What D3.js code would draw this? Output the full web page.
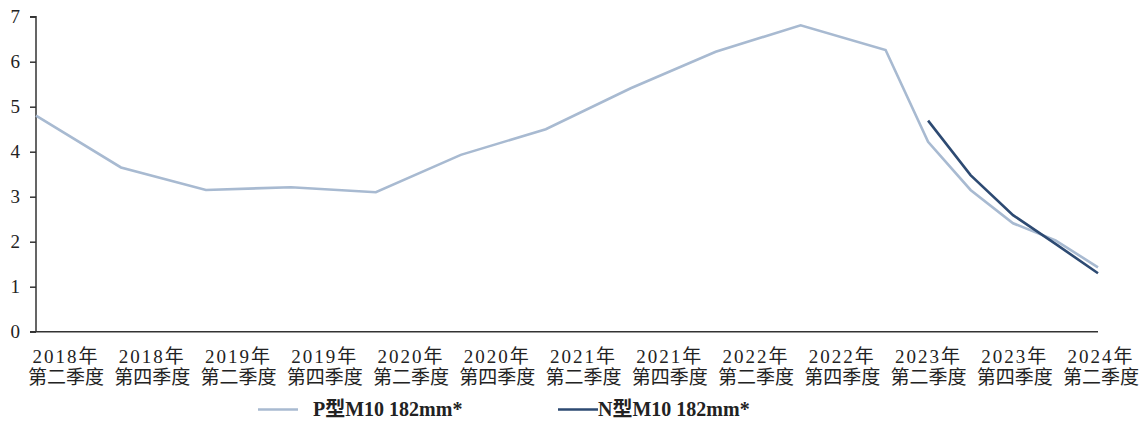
<!DOCTYPE html>
<html>
<head>
<meta charset="utf-8">
<script src="https://cdn.jsdelivr.net/npm/d3@7"></script>
<style>
  body { margin: 0; background: #fff; }
  text { font-family: "Liberation Serif", "Noto Sans CJK SC", serif; fill: #222; }
</style>
</head>
<body>
<script>
// periods with data (quarters); half-yearly until 2023Q2, then quarterly
var periods = ["2018Q2","2018Q4","2019Q2","2019Q4","2020Q2","2020Q4","2021Q2","2021Q4",
               "2022Q2","2022Q4","2023Q2","2023Q3","2023Q4","2024Q1","2024Q2","2024Q3"];
var pType = [4.80, 3.65, 3.15, 3.21, 3.10, 3.93, 4.50, 5.41, 6.22, 6.81, 6.26, 4.22, 3.15, 2.41, 2.03, 1.43];
var nType = [null, null, null, null, null, null, null, null, null, null, null, 4.69, 3.48, 2.59, 1.95, 1.30];
var yearLabels = ["2018年","2018年","2019年","2019年","2020年","2020年","2021年","2021年","2022年","2022年","2023年","2023年","2024年"];
var quarterLabels = ["第二季度","第四季度","第二季度","第四季度","第二季度","第四季度","第二季度","第四季度","第二季度","第四季度","第二季度","第四季度","第二季度"];
var yTicks = [0, 1, 2, 3, 4, 5, 6, 7];
var seriesNames = ["P型M10 182mm*", "N型M10 182mm*"];
var colors = ["#a8bad1", "#2d4a72"];

var w = 1148, h = 423;
var svg = d3.select("body").append("svg")
    .attr("width", w)
    .attr("height", h);

// quarter index from "YYYYQn"
function qIndex(p) { return (+p.slice(0, 4) - 2018) * 4 + (+p.slice(5) - 2); }

var x = d3.scaleLinear().domain([0, 25]).range([36, 1098]);
var y = d3.scaleLinear().domain([0, 7]).range([331.7, 16.7]);
var xLab = d3.scalePoint().domain(d3.range(yearLabels.length)).range([66, 1101]);

// y axis
var yAxis = svg.append("g")
    .attr("transform", "translate(36,0)")
    .call(d3.axisLeft(y).tickValues(yTicks).tickSize(6).tickPadding(10).tickFormat(d3.format("d")));
yAxis.select(".domain").attr("stroke", "#333").attr("stroke-width", 1.5).attr("d", "M-6,16.7H0V331.7");
yAxis.selectAll(".tick line").attr("stroke", "#333").attr("stroke-width", 1.5);
yAxis.selectAll(".tick text").style("font-size", "19px").attr("fill", "#222");

// x axis line
svg.append("line")
    .attr("x1", 30).attr("x2", x(25))
    .attr("y1", y(0)).attr("y2", y(0))
    .attr("stroke", "#333").attr("stroke-width", 1.5);

// x labels
var labs = svg.selectAll(".xlab")
    .data(yearLabels)
    .enter()
    .append("g")
    .attr("class", "xlab")
    .attr("transform", (d, i) => "translate(" + xLab(i) + ",0)");
labs.append("text")
    .attr("y", 362.5)
    .attr("text-anchor", "middle")
    .style("font-size", "19px")
    .style("letter-spacing", "2px")
    .text(d => d);
labs.append("text")
    .attr("y", 384)
    .attr("text-anchor", "middle")
    .style("font-size", "19px")
    .text((d, i) => quarterLabels[i]);

// lines
var line = d3.line()
    .defined(d => d.v != null)
    .x(d => x(qIndex(d.p)))
    .y(d => y(d.v));

[pType, nType].forEach(function(vals, k) {
  var pts = periods.map((p, i) => ({p: p, v: vals[i]}));
  svg.append("path")
      .datum(pts)
      .attr("fill", "none")
      .attr("stroke", colors[k])
      .attr("stroke-width", 2.6)
      .attr("stroke-linejoin", "miter")
      .attr("d", line);
});

// legend
var legX = [258, 558];
var legend = svg.selectAll(".leg")
    .data(seriesNames)
    .enter()
    .append("g")
    .attr("class", "leg")
    .attr("transform", (d, i) => "translate(" + legX[i] + ",409.5)");
legend.append("line")
    .attr("x1", 0).attr("x2", 40)
    .attr("stroke", (d, i) => colors[i])
    .attr("stroke-width", 2.6);
legend.append("text")
    .attr("x", (d, i) => i == 0 ? 55 : 40)
    .attr("y", 6.5)
    .style("font-size", "20px")
    .style("font-weight", "bold")
    .text(d => d);
</script>
</body>
</html>
